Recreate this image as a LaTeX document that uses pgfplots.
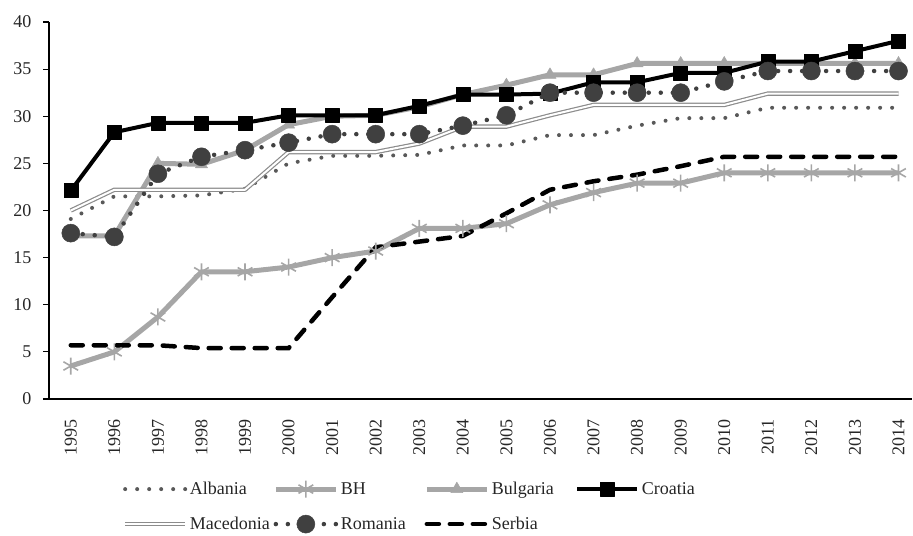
\documentclass[border=0pt]{standalone}
\usepackage{fontspec}
\setmainfont{Liberation Serif}
\usepackage{pgfplots}
\pgfplotsset{compat=1.18}
\definecolor{lgray}{HTML}{A6A6A6}
\definecolor{dgray}{HTML}{595959}
\definecolor{rgray}{HTML}{404040}
\definecolor{mgray}{HTML}{8C8C8C}
\definecolor{txt}{HTML}{262626}
\begin{document}
\begin{tikzpicture}
\begin{axis}[name=ax, scale only axis, width=863pt, height=377pt,
  xmin=1994.5, xmax=2014.31, ymin=0, ymax=40,
  axis lines*=left,
  axis line style={line width=1.5pt, black},
  tick align=outside,
  xtick={1995,...,2014},
  xtick style={draw=none},
  minor xtick={1994.5,1995.5,1996.5,1997.5,1998.5,1999.5,2000.5,2001.5,2002.5,2003.5,2004.5,2005.5,2006.5,2007.5,2008.5,2009.5,2010.5,2011.5,2012.5,2013.5},
  minor x tick style={line width=1.2pt, black},
  minor tick length=6pt,
  ytick={0,5,...,40},
  ytick style={line width=1.2pt, black},
  major tick length=6pt,
  /pgf/number format/assume math mode=true,
  /pgf/number format/1000 sep={},
  tick label style={font=\fontsize{18}{21}\selectfont, text=txt},
  x tick label style={rotate=90, anchor=east},
  xticklabel shift=11pt,
  yticklabel shift=8pt,
  legend columns=4,
  legend cell align=left,
  legend style={draw=none, fill=none, at={(axis description cs:0.082,-0.208)}, anchor=north west,
    font=\fontsize{18}{21}\selectfont, text=txt, nodes={inner sep=2.5pt}, /tikz/row sep=16pt},
  legend image code/.code={\draw[mark repeat=2,mark phase=2,#1] plot coordinates {(0pt,0pt) (30pt,0pt) (60pt,0pt)};},
  clip=false,
]
% Albania
\addplot[color=dgray, line width=4pt, line cap=round, dash pattern=on 0pt off 12pt, mark=none] coordinates {
(1995,19.1) (1996,21.5) (1997,21.5) (1998,21.6) (1999,22.3) (2000,25.0) (2001,25.8) (2002,25.8) (2003,25.9) (2004,26.9)
(2005,26.9) (2006,28.0) (2007,28.0) (2008,29.0) (2009,29.8) (2010,29.8) (2011,30.9) (2012,30.9) (2013,30.9) (2014,30.9)};
\addlegendentry{\makebox[81pt][l]{Albania}}
% BH
\addplot[color=lgray, line width=5pt, line join=round, mark=asterisk, mark size=8.5pt, mark options={solid, line width=1.6pt, draw=lgray}] coordinates {
(1995,3.5) (1996,5.0) (1997,8.7) (1998,13.5) (1999,13.5) (2000,14.0) (2001,15.0) (2002,15.7) (2003,18.1) (2004,18.1)
(2005,18.6) (2006,20.6) (2007,21.9) (2008,22.9) (2009,22.9) (2010,24.0) (2011,24.0) (2012,24.0) (2013,24.0) (2014,24.0)};
\addlegendentry{\makebox[81pt][l]{BH}}
% Bulgaria
\addplot[color=lgray, line width=5pt, line join=round, mark=triangle*, mark size=7pt, mark options={solid, line width=0.5pt, fill=lgray, draw=lgray}] coordinates {
(1995,17.3) (1996,17.3) (1997,25.0) (1998,24.9) (1999,26.4) (2000,29.1) (2001,30.0) (2002,30.1) (2003,31.0) (2004,32.3)
(2005,33.3) (2006,34.4) (2007,34.4) (2008,35.6) (2009,35.6) (2010,35.6) (2011,35.6) (2012,35.6) (2013,35.6) (2014,35.6)};
\addlegendentry{\makebox[81pt][l]{Bulgaria}}
% Croatia
\addplot[color=black, line width=4pt, line join=round, mark=square*, mark size=7pt, mark options={solid, line width=0.5pt, fill=black}] coordinates {
(1995,22.1) (1996,28.3) (1997,29.3) (1998,29.3) (1999,29.3) (2000,30.1) (2001,30.1) (2002,30.1) (2003,31.1) (2004,32.3)
(2005,32.3) (2006,32.4) (2007,33.6) (2008,33.6) (2009,34.6) (2010,34.6) (2011,35.8) (2012,35.8) (2013,36.9) (2014,38.0)};
\addlegendentry{\makebox[81pt][l]{Croatia}}
% Macedonia
\addplot[draw=mgray, line width=1.2pt, double=white, double distance=2pt, line join=round, mark=none] coordinates {
(1995,20.0) (1996,22.2) (1997,22.2) (1998,22.2) (1999,22.2) (2000,26.2) (2001,26.2) (2002,26.2) (2003,27.1) (2004,28.9)
(2005,28.9) (2006,30.1) (2007,31.2) (2008,31.2) (2009,31.2) (2010,31.2) (2011,32.4) (2012,32.4) (2013,32.4) (2014,32.4)};
\addlegendentry{\makebox[81pt][l]{Macedonia}}
% Romania
\addplot[color=rgray, line width=4.5pt, line cap=round, dash pattern=on 0pt off 12pt, mark=*, mark size=9pt, mark options={solid, fill=rgray, draw=rgray, line width=0.5pt}] coordinates {
(1995,17.6) (1996,17.2) (1997,23.9) (1998,25.7) (1999,26.4) (2000,27.2) (2001,28.1) (2002,28.1) (2003,28.1) (2004,29.0)
(2005,30.1) (2006,32.5) (2007,32.5) (2008,32.5) (2009,32.5) (2010,33.7) (2011,34.8) (2012,34.8) (2013,34.8) (2014,34.8)};
\addlegendentry{\makebox[81pt][l]{Romania}}
% Serbia
\addplot[color=black, line width=4.5pt, line cap=round, dash pattern=on 12pt off 11pt, mark=none] coordinates {
(1995,5.7) (1996,5.7) (1997,5.7) (1998,5.4) (1999,5.4) (2000,5.4) (2001,10.8) (2002,16.1) (2003,16.7) (2004,17.3)
(2005,19.7) (2006,22.2) (2007,23.1) (2008,23.8) (2009,24.7) (2010,25.7) (2011,25.7) (2012,25.7) (2013,25.7) (2014,25.7)};
\addlegendentry{\makebox[81pt][l]{Serbia}}
\end{axis}
\pgfresetboundingbox
\path ([shift={(-49pt,-137pt)}]ax.south west) rectangle ([shift={(1pt,22pt)}]ax.north east);
\end{tikzpicture}
\end{document}
